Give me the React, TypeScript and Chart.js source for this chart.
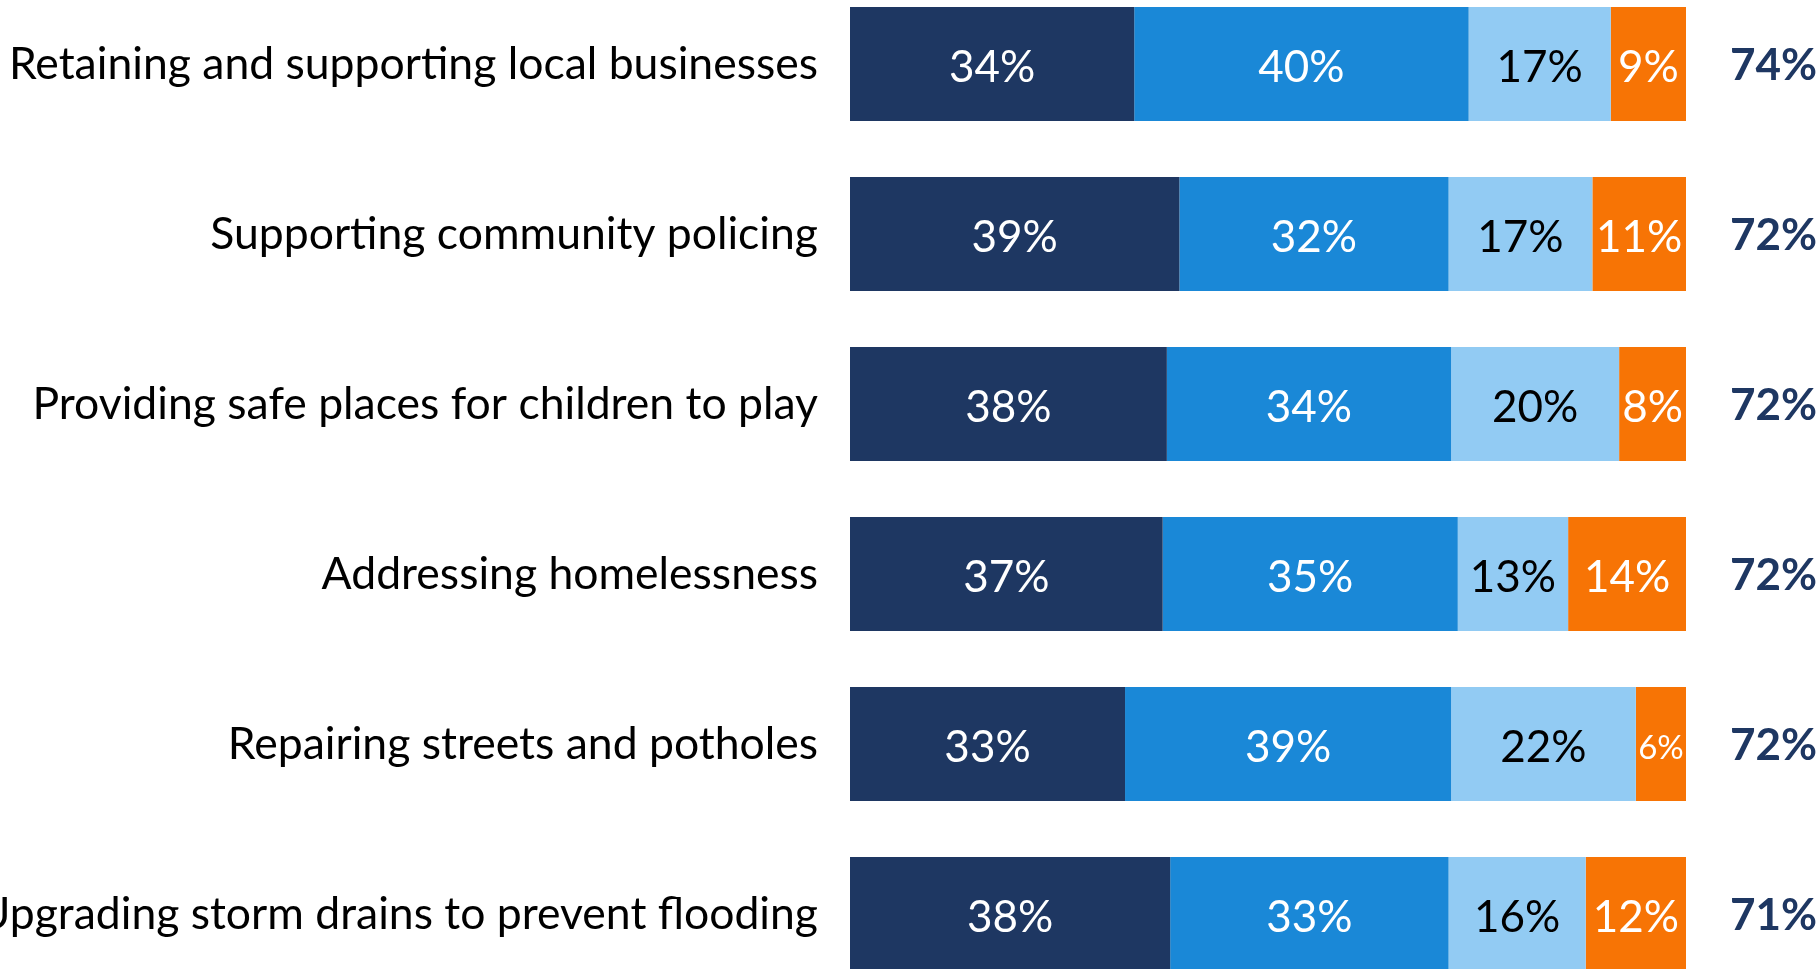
import React, { useEffect, useRef } from "react";
import { Chart, registerables } from "chart.js";

Chart.register(...registerables);

const categories = [
  "Retaining and supporting local businesses",
  "Supporting community policing",
  "Providing safe places for children to play",
  "Addressing homelessness",
  "Repairing streets and potholes",
  "Upgrading storm drains to prevent flooding",
];

const seriesNames = ["Very high priority", "High priority", "Medium priority", "Low priority"];
const seriesVeryHigh = [34.0, 39.4, 37.9, 37.4, 32.9, 38.3];
const seriesHigh = [40.0, 32.2, 34.0, 35.3, 39.0, 33.3];
const seriesMedium = [17.0, 17.2, 20.1, 13.2, 22.1, 16.4];
const seriesLow = [9.0, 11.2, 8.0, 14.1, 6.0, 12.0];
const netTotals = [74, 72, 72, 72, 72, 71];

const COLORS = ["#1E3762", "#1A88D7", "#92CBF3", "#F77405"];
const LABEL_COLORS = ["#FFFFFF", "#FFFFFF", "#000000", "#FFFFFF"];
const FONT = "Lato, 'Open Sans', sans-serif";
const LABEL_SIZE = 44.5;
const VALUE_SIZE = 44;

const segmentLabelPlugin = {
  id: "segmentLabels",
  afterDatasetsDraw(chart: any) {
    const ctx = chart.ctx;
    ctx.save();
    chart.data.datasets.forEach((ds: any, i: number) => {
      const meta = chart.getDatasetMeta(i);
      meta.data.forEach((bar: any, j: number) => {
        const v = ds.data[j] as number;
        const text = Math.round(v) + "%";
        const { x, base, y } = bar.getProps(["x", "base", "y"], true);
        const w = Math.abs(x - base);
        let size = VALUE_SIZE;
        ctx.font = `${size}px ${FONT}`;
        while (ctx.measureText(text).width > w - 4 && size > 10) {
          size -= 1;
          ctx.font = `${size}px ${FONT}`;
        }
        ctx.fillStyle = LABEL_COLORS[i];
        ctx.textAlign = "center";
        ctx.textBaseline = "middle";
        ctx.fillText(text, (x + base) / 2, y + 4);
      });
    });
    ctx.restore();
  },
};

export default function App() {
  const ref = useRef<HTMLCanvasElement | null>(null);

  useEffect(() => {
    if (!ref.current) return;
    const data = [seriesVeryHigh, seriesHigh, seriesMedium, seriesLow];
    const chart = new Chart(ref.current, {
      type: "bar",
      data: {
        labels: categories,
        datasets: data.map((d, i) => ({
          label: seriesNames[i],
          data: d,
          backgroundColor: COLORS[i],
          borderWidth: 0,
          categoryPercentage: 1,
          barPercentage: 0.67,
        })),
      },
      options: {
        indexAxis: "y",
        responsive: false,
        animation: false,
        layout: { padding: 0, autoPadding: false },
        plugins: {
          legend: { display: false },
          tooltip: { enabled: false },
          title: { display: false },
        },
        scales: {
          x: {
            type: "linear",
            stacked: true,
            min: 0,
            max: 100,
            display: false,
          },
          y: {
            type: "category",
            stacked: true,
            position: "left",
            offset: true,
            grid: { display: false, drawTicks: false },
            border: { display: false },
            ticks: {
              color: "#000000",
              padding: 32,
              labelOffset: 1,
              font: { family: FONT, size: LABEL_SIZE },
            },
            afterFit: (scale: any) => {
              scale.width = 850;
              scale.paddingTop = 0;
              scale.paddingBottom = 0;
            },
          },
          y2: {
            type: "category",
            position: "right",
            offset: true,
            labels: netTotals.map((v) => v + "%"),
            grid: { display: false, drawTicks: false },
            border: { display: false },
            ticks: {
              color: "#1E3762",
              padding: 44,
              labelOffset: 2,
              font: { family: FONT, size: 44, weight: "bold" },
            },
            afterFit: (scale: any) => {
              scale.width = 134;
              scale.paddingTop = 0;
              scale.paddingBottom = 0;
            },
          },
        },
      },
      plugins: [segmentLabelPlugin],
    });
    return () => chart.destroy();
  }, []);

  return (
    <div
      style={{
        position: "fixed",
        left: 0,
        top: -21,
        width: 1820,
        height: 1020,
        background: "#FFFFFF",
      }}
    >
      <canvas ref={ref} width={1820} height={1020} style={{ display: "block" }} />
    </div>
  );
}
